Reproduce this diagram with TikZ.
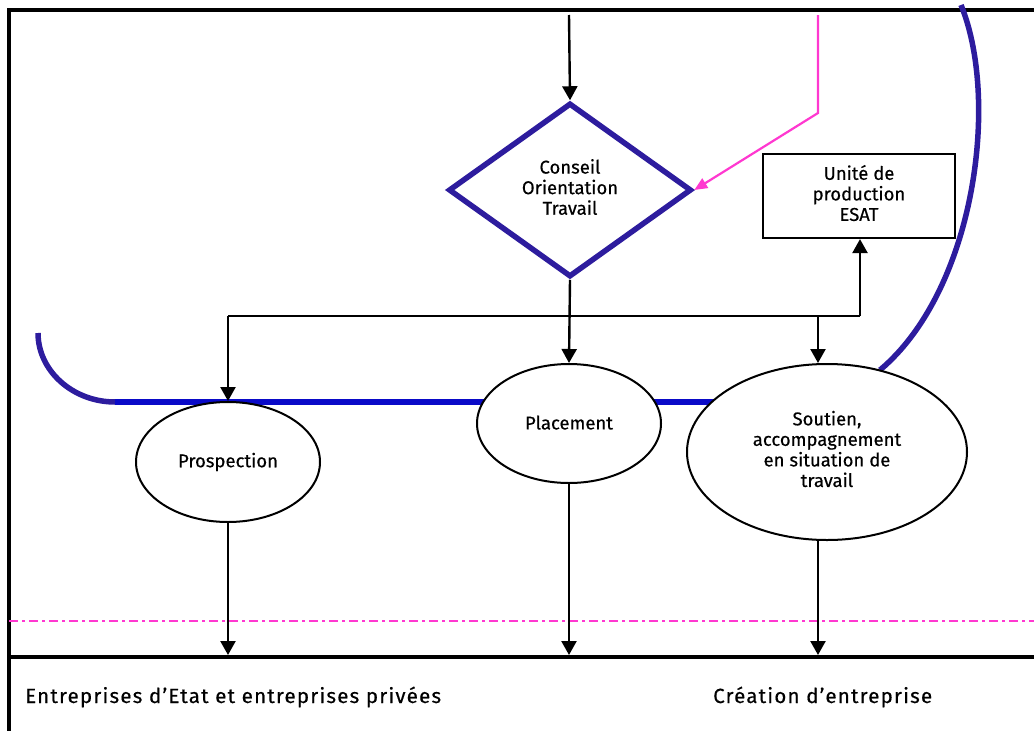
\documentclass[tikz,border=0pt]{standalone}
\usepackage{fontspec}
\setmainfont{Fira Sans}[FakeBold=0.4]
\newfontfamily\widefira{Fira Sans}[LetterSpace=6,FakeBold=0.5]
\usetikzlibrary{arrows.meta,shapes.geometric}
\definecolor{cotblue}{RGB}{45,28,158}
\definecolor{railblue}{RGB}{10,10,200}
\definecolor{linkpink}{RGB}{255,56,208}
% centred multi-line label with the normal line spacing
\newcommand{\linesof}[1]{\begin{tabular}{@{}c@{}}#1\end{tabular}}
\tikzset{
  frameline/.style={line width=3.2pt,black},
  flow/.style={line width=2.4pt,black,-{Triangle[length=14pt,width=15pt]}},
  plainflow/.style={line width=2.4pt,black},
  oval/.style={ellipse,draw,line width=2pt,fill=white,inner sep=0pt,align=center,
    font=\fontsize{18.5}{20.5}\selectfont},
  txt/.style={font=\fontsize{18.5}{20.5}\selectfont,align=center,inner sep=0pt},
  bigtxt/.style={font=\widefira\fontsize{20.5}{24}\selectfont,inner sep=0pt,anchor=base west},
}
\begin{document}
\begin{tikzpicture}[x=1pt,y=-1pt]
\useasboundingbox (0,0) rectangle (1034,731);

% frame of the chart
\draw[frameline] (9,731) -- (9,10) -- (1034,10);
\draw[frameline] (9,657) -- (1034,657);

% dash-dotted boundary
\draw[linkpink,line width=1.8pt,dash pattern=on 9pt off 4pt on 3pt off 4pt] (9,621) -- (1034,621);

% blue rail and its curved ends
\draw[cotblue,line width=5.5pt] (38,333) .. controls (38,371) and (73,402) .. (115,402);
\draw[railblue,line width=5.5pt] (115,402) -- (760,402);
\draw[cotblue,line width=5.5pt] (961,5) .. controls (1000,100) and (975,290) .. (880,370);

% decision diamond
\node[diamond,draw=cotblue,line width=5.5pt,fill=white,minimum width=243pt,minimum height=174pt,
  inner sep=0pt,txt] (cot) at (570,190) {\raisebox{1.5pt}{\linesof{Conseil\\Orientation\\Travail}}};

% production unit
\node[draw,line width=2.2pt,minimum width=192pt,minimum height=84pt,txt] (esat) at (859,196)
  {\raisebox{-3pt}{\linesof{Unité de\\production\\ESAT}}};

% outcomes
\node[oval,minimum width=184pt,minimum height=120pt] (prosp) at (228,462) {Prospection};
\node[oval,minimum width=184pt,minimum height=119pt] (plac) at (569,423.5) {\raisebox{2pt}{Placement}};
\node[oval,minimum width=280pt,minimum height=176pt] (sout) at (827,452)
  {\raisebox{12pt}{\linesof{Soutien,\\accompagnement\\en situation de\\travail}}};

% incoming links
\coordinate (topin) at (569,15);
\draw[flow] (topin) -- (cot.north);
\coordinate (pinkin) at (818,15);
\coordinate (pinkbend) at (818,113);
\draw[linkpink,line width=2.2pt,-{Triangle[length=13pt,width=11pt]}] (pinkin) -- (pinkbend) -- (cot.east);

% distribution bar
\coordinate (barL) at (228,316);
\coordinate (barM) at (818,316);
\coordinate (barR) at (860,316);
\draw[plainflow] (barL) -- (barR);
\draw[flow] (barL) -- (prosp.north);
\draw[flow] (barR) -- (esat.south -| barR);
\draw[flow] (barM) -- (sout.north -| barM);
\draw[flow] (cot.south) -- (plac.north);

% outputs to the bottom line
\coordinate (outL) at (228,655);
\coordinate (outM) at (569,655);
\coordinate (outR) at (818,655);
\draw[flow] (prosp.south) -- (outL);
\draw[flow] (plac.south) -- (outM);
\draw[flow] (sout.south -| outR) -- (outR);

% destinations
\node[bigtxt] (pub) at (25,703) {Entreprises d’Etat et entreprises privées};
\node[bigtxt] (crea) at (713,703) {Création d’entreprise};
\end{tikzpicture}
\end{document}
